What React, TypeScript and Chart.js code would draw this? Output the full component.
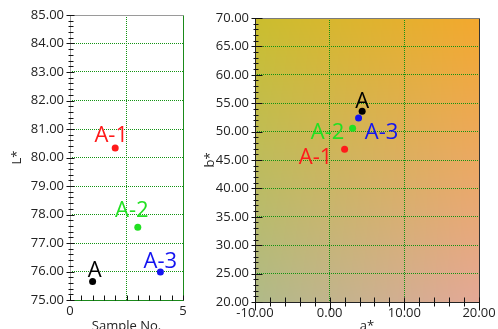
import React, { useEffect, useRef } from "react";
import { Chart, registerables } from "chart.js";

Chart.register(...registerables);

// ---- data ----
const sampleNames = ["A", "A-1", "A-2", "A-3"];
const sampleNo = [1, 2, 3, 4];
const lValues = [75.65, 80.33, 77.55, 75.98];
const aValues = [4.35, 2.0, 3.07, 3.87];
const bValues = [53.6, 46.9, 50.6, 52.4];
const sampleColors = ["#000000", "#ff1a1a", "#22e022", "#1414f0"];

// label offsets (style)
const leftLabelOffsets = [
  [2, -11],
  [-4, -12],
  [-6, -17],
  [0, -10],
];
const rightLabelOffsets = [
  [0, -9],
  [-29, 9],
  [-25, 5],
  [23, 15],
];

const GRID = "#139313";
const FONT = "'Open Sans', 'Noto Sans', sans-serif";
const TRANSPARENT = "rgba(0,0,0,0)";

function labelPlugin(offsets: number[][]) {
  return {
    id: "pointLabels",
    afterDatasetsDraw(chart: any) {
      const ctx = chart.ctx;
      const meta = chart.getDatasetMeta(0);
      ctx.save();
      ctx.font = `22px ${FONT}`;
      ctx.textAlign = "center";
      ctx.textBaseline = "middle";
      meta.data.forEach((pt: any, i: number) => {
        ctx.fillStyle = sampleColors[i];
        ctx.fillText(sampleNames[i], pt.x + offsets[i][0], pt.y + offsets[i][1]);
      });
      ctx.restore();
    },
  };
}

function decorPlugin(o: any) {
  return {
    id: "axisDecor",
    afterDraw(chart: any) {
      const ctx = chart.ctx;
      const { left, right, top, bottom } = chart.chartArea;
      const xs = chart.scales.x;
      const ys = chart.scales.y;
      ctx.save();
      ctx.lineWidth = 1;
      const line = (x1: number, y1: number, x2: number, y2: number, c: string) => {
        ctx.strokeStyle = c;
        ctx.beginPath();
        ctx.moveTo(x1, y1);
        ctx.lineTo(x2, y2);
        ctx.stroke();
      };
      // borders
      const L = Math.round(left) + 0.5;
      const R = Math.round(right) + 0.5;
      const T = Math.round(top) + 0.5;
      const B = Math.round(bottom) + 0.5;
      line(L, T, R, T, o.borderTop);
      line(R, T, R, B, o.borderRight);
      line(L, B, R, B, o.borderBottom);
      line(L, T, L, B, o.borderLeft);
      // y ticks
      const ny = Math.round((ys.max - ys.min) / o.yMinor);
      for (let i = 0; i <= ny; i++) {
        const v = ys.min + i * o.yMinor;
        const major = Math.abs(v / o.yMajor - Math.round(v / o.yMajor)) < 1e-6;
        const py = Math.round(ys.getPixelForValue(v)) + 0.5;
        const [a, b] = major ? o.yMajorLen : o.yMinorLen;
        line(L - a, py, L + b, py, "#111");
      }
      // x ticks
      const nx = Math.round((xs.max - xs.min) / o.xMinor);
      for (let i = 0; i <= nx; i++) {
        const v = xs.min + i * o.xMinor;
        const major = Math.abs(v / o.xMajor - Math.round(v / o.xMajor)) < 1e-6;
        const px = Math.round(xs.getPixelForValue(v)) + 0.5;
        const [a, b] = major ? o.xMajorLen : o.xMinorLen;
        line(px, B - a, px, B + b, "#111");
      }
      ctx.restore();
    },
  };
}

const bgPlugin = {
  id: "bilinearBg",
  beforeDraw(chart: any) {
    const { left, top, width, height } = chart.chartArea;
    const w = Math.round(width);
    const h = Math.round(height);
    const off = document.createElement("canvas");
    off.width = w;
    off.height = h;
    const octx = off.getContext("2d")!;
    const img = octx.createImageData(w, h);
    const TL = [202, 190, 46];
    const TR = [243, 168, 46];
    const BL = [176, 186, 136];
    const BR = [228, 168, 150];
    for (let y = 0; y < h; y++) {
      const ty = y / (h - 1);
      for (let x = 0; x < w; x++) {
        const tx = x / (w - 1);
        const k = (y * w + x) * 4;
        for (let c = 0; c < 3; c++) {
          const top_ = TL[c] + (TR[c] - TL[c]) * tx;
          const bot = BL[c] + (BR[c] - BL[c]) * tx;
          img.data[k + c] = top_ + (bot - top_) * ty;
        }
        img.data[k + 3] = 255;
      }
    }
    octx.putImageData(img, 0, 0);
    chart.ctx.drawImage(off, Math.round(left), Math.round(top));
  },
};

const tickFont = { family: FONT, size: 13 };
const titleFont = { family: FONT, size: 13, lineHeight: 0.4 };

function leftConfig(): any {
  return {
    type: "scatter",
    data: {
      datasets: [
        {
          data: sampleNo.map((x, i) => ({ x, y: lValues[i] })),
          pointBackgroundColor: sampleColors,
          pointBorderColor: sampleColors,
          pointRadius: 3.5,
          pointBorderWidth: 0,
        },
      ],
    },
    options: {
      animation: false,
      responsive: false,
      devicePixelRatio: 1,
      layout: { padding: { top: 15, right: 17, left: 0, bottom: 0 } },
      plugins: { legend: { display: false }, tooltip: { enabled: false } },
      scales: {
        x: {
          type: "linear",
          min: 0,
          max: 5,
          afterBuildTicks: (s: any) => {
            s.ticks = [0, 2.5, 5].map((v) => ({ value: v }));
          },
          afterFit: (s: any) => {
            s.height = 29;
            s.paddingLeft = 0;
            s.paddingRight = 0;
          },
          ticks: {
            callback: (v: any) => (v === 2.5 ? "" : String(v)),
            font: tickFont,
            color: "#222",
            padding: 3,
            maxRotation: 0,
            autoSkip: false,
          },
          grid: {
            color: (c: any) => (c.tick && c.tick.value === 2.5 ? GRID : TRANSPARENT),
            drawTicks: false,
          },
          border: { display: false, dash: [1, 1] },
          title: { display: true, text: "Sample No.", font: titleFont, color: "#222", padding: 0 },
        },
        y: {
          type: "linear",
          min: 75,
          max: 85,
          afterFit: (s: any) => {
            s.width = 70;
            s.paddingTop = 0;
            s.paddingBottom = 0;
          },
          ticks: {
            stepSize: 1,
            callback: (v: any) => Number(v).toFixed(2),
            font: tickFont,
            color: "#222",
            padding: 6,
          },
          grid: {
            color: (c: any) =>
              c.tick && (c.tick.value === 75 || c.tick.value === 85) ? TRANSPARENT : GRID,
            drawTicks: false,
          },
          border: { display: false, dash: [1, 1] },
          title: { display: true, text: "L*", font: { family: FONT, size: 13, lineHeight: 1.2 }, color: "#222", padding: { top: 9 } },
        },
      },
    },
    plugins: [
      decorPlugin({
        borderTop: "#9a9a9a",
        borderRight: "#1a8a1a",
        borderBottom: "#1a8a1a",
        borderLeft: "#a0a0a0",
        yMinor: 0.2,
        yMajor: 1,
        yMajorLen: [4, 4],
        yMinorLen: [2, 3],
        xMinor: 0.5,
        xMajor: 2.5,
        xMajorLen: [5, 0],
        xMinorLen: [5, 0],
      }),
      labelPlugin(leftLabelOffsets),
    ],
  };
}

function rightConfig(): any {
  return {
    type: "scatter",
    data: {
      datasets: [
        {
          data: aValues.map((x, i) => ({ x, y: bValues[i] })),
          pointBackgroundColor: sampleColors,
          pointBorderColor: sampleColors,
          pointRadius: 3.5,
          pointBorderWidth: 0,
        },
      ],
    },
    options: {
      animation: false,
      responsive: false,
      devicePixelRatio: 1,
      layout: { padding: { top: 18, right: 19, left: 0, bottom: 0 } },
      plugins: { legend: { display: false }, tooltip: { enabled: false } },
      scales: {
        x: {
          type: "linear",
          min: -10,
          max: 20,
          afterFit: (s: any) => {
            s.height = 27;
            s.paddingLeft = 0;
            s.paddingRight = 0;
          },
          ticks: {
            stepSize: 10,
            callback: (v: any) => Number(v).toFixed(2),
            font: tickFont,
            color: "#222",
            padding: 3,
            maxRotation: 0,
            autoSkip: false,
          },
          grid: {
            color: (c: any) =>
              c.tick && (c.tick.value === -10 || c.tick.value === 20) ? TRANSPARENT : GRID,
            drawTicks: false,
          },
          border: { display: false, dash: [1, 1] },
          title: { display: true, text: "a*", font: titleFont, color: "#222", padding: 0 },
        },
        y: {
          type: "linear",
          min: 20,
          max: 70,
          afterFit: (s: any) => {
            s.width = 55;
            s.paddingTop = 0;
            s.paddingBottom = 0;
          },
          ticks: {
            stepSize: 5,
            callback: (v: any) => Number(v).toFixed(2),
            font: tickFont,
            color: "#222",
            padding: 6,
          },
          grid: {
            color: (c: any) =>
              c.tick && (c.tick.value === 20 || c.tick.value === 70) ? TRANSPARENT : GRID,
            drawTicks: false,
          },
          border: { display: false, dash: [1, 1] },
          title: { display: true, text: "b*", font: { family: FONT, size: 13, lineHeight: 1.2 }, color: "#222", padding: { top: 2 } },
        },
      },
    },
    plugins: [
      bgPlugin,
      decorPlugin({
        borderTop: "#7a7a7a",
        borderRight: "#333333",
        borderBottom: "#222222",
        borderLeft: "#222222",
        yMinor: 1,
        yMajor: 5,
        yMajorLen: [4, 7],
        yMinorLen: [2, 3],
        xMinor: 2,
        xMajor: 10,
        xMajorLen: [5, 8],
        xMinorLen: [5, 4],
      }),
      labelPlugin(rightLabelOffsets),
    ],
  };
}

function ChartCanvas(props: { width: number; height: number; left: number; make: () => any }) {
  const ref = useRef<HTMLCanvasElement | null>(null);
  useEffect(() => {
    if (!ref.current) return;
    const chart = new Chart(ref.current, props.make());
    return () => chart.destroy();
  }, []);
  return (
    <canvas
      ref={ref}
      width={props.width}
      height={props.height}
      style={{ position: "absolute", left: props.left, top: 0, width: props.width, height: props.height }}
    />
  );
}

export default function App() {
  return (
    <div
      style={{
        position: "absolute",
        left: 0,
        top: 0,
        width: 498,
        height: 329,
        background: "#ffffff",
        overflow: "hidden",
      }}
    >
      <ChartCanvas width={200} height={329} left={0} make={leftConfig} />
      <ChartCanvas width={298} height={329} left={200} make={rightConfig} />
    </div>
  );
}
